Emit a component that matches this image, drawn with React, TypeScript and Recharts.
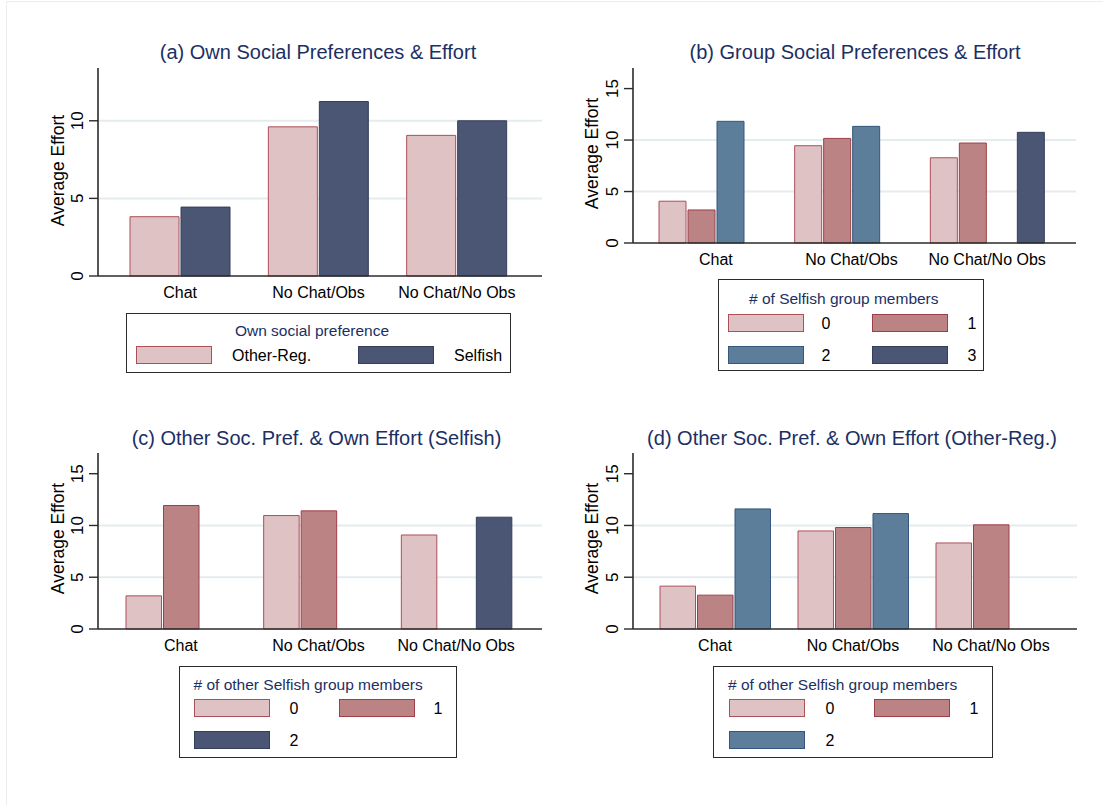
import React from "react";
import { BarChart, Bar, XAxis, YAxis, CartesianGrid } from "recharts";

const FONT = '"Liberation Sans", Arial, Helvetica, sans-serif';
const TITLE_COLOR = "#1c2f63";
const AXIS_COLOR = "#2b2b2b";
const GRID_COLOR = "#e4ecee";

// categories shared by all four panels
const conditions = ["Chat", "No Chat/Obs", "No Chat/No Obs"];

// (a) own social preference
const ownPrefNames = ["Other-Reg.", "Selfish"];
const ownOtherReg = [3.82, 9.61, 9.06];
const ownSelfish = [4.44, 11.24, 10.0];

// (b) # of selfish group members
const groupNames = ["0", "1", "2", "3"];
const group0 = [4.06, 9.45, 8.28];
const group1 = [3.21, 10.16, 9.71];
const group2 = [11.82, 11.33, null];
const group3 = [null, null, 10.75];

// (c) selfish subjects, # of other selfish members
const otherNames = ["0", "1", "2"];
const selfish0 = [3.2, 10.96, 9.08];
const selfish1 = [11.93, 11.41, null];
const selfish2 = [null, null, 10.8];

// (d) other-regarding subjects, # of other selfish members
const otherReg0 = [4.14, 9.47, 8.31];
const otherReg1 = [3.27, 9.8, 10.06];
const otherReg2 = [11.6, 11.15, null];

const ticksA = [0, 5, 10];
const ticksBCD = [0, 5, 10, 15];
const gridValues = [5, 10];

const PINK = { fill: "#dfc2c4", stroke: "#ab4f59" };
const MAUVE = { fill: "#bc8385", stroke: "#9e3e48" };
const STEEL = { fill: "#5c7e9b", stroke: "#34577b" };
const NAVY = { fill: "#4a5673", stroke: "#343f5c" };

type Val = number | null;

function toRows(series: Val[][]) {
  return conditions.map((c, i) => {
    const row: Record<string, any> = { cond: c };
    series.forEach((s, j) => {
      row["s" + j] = s[i];
    });
    return row;
  });
}

const YAXIS_W = 98;
const M_TOP = 12;
const M_RIGHT = 10;
const XAXIS_H = 34;

function YTick(props: any) {
  const { x, y, payload } = props;
  const bx = x - 4;
  return (
    <text
      x={bx}
      y={y}
      transform={`rotate(-90 ${bx} ${y})`}
      textAnchor="middle"
      fontSize={17}
      fill="#000"
      fontFamily={FONT}
    >
      {payload.value}
    </text>
  );
}

function Panel(p: any) {
  const width = YAXIS_W + p.plotW + M_RIGHT;
  const height = M_TOP + p.plotH + XAXIS_H;
  return (
    <div style={{ position: "absolute", left: p.plotLeft - YAXIS_W, top: p.plotTop - M_TOP }}>
      <BarChart
        width={width}
        height={height}
        data={p.rows}
        margin={{ top: M_TOP, right: M_RIGHT, bottom: 0, left: 0 }}
        barSize={p.barSize}
        barGap={p.barGap}
      >
        <CartesianGrid
          vertical={false}
          horizontalValues={gridValues}
          stroke={GRID_COLOR}
          strokeWidth={2}
        />
        <XAxis
          dataKey="cond"
          type="category"
          height={XAXIS_H}
          padding={{ left: p.padL, right: p.padR }}
          tickLine={false}
          tickSize={0}
          tickMargin={11}
          interval={0}
          axisLine={{ stroke: AXIS_COLOR, strokeWidth: 1.6 }}
          tick={{ fontSize: 16, fill: "#000", fontFamily: FONT }}
        />
        <YAxis
          type="number"
          domain={[0, p.yMax]}
          ticks={p.ticks}
          interval={0}
          width={YAXIS_W}
          tickSize={9}
          tickLine={{ stroke: AXIS_COLOR, strokeWidth: 1.4 }}
          axisLine={{ stroke: AXIS_COLOR, strokeWidth: 1.6 }}
          tick={<YTick />}
        />
        {p.colors.map((c: any, j: number) => (
          <Bar
            key={j}
            dataKey={"s" + j}
            fill={c.fill}
            stroke={c.stroke}
            strokeWidth={1}
            isAnimationActive={false}
          />
        ))}
      </BarChart>
    </div>
  );
}

function CenterText({ cx, cy, text, size, color, rotate }: any) {
  const w = 600;
  const h = Math.round(size * 1.4);
  return (
    <div
      style={{
        position: "absolute",
        left: cx - w / 2,
        top: cy - h / 2,
        width: w,
        height: h,
        lineHeight: h + "px",
        textAlign: "center",
        fontSize: size,
        color,
        whiteSpace: "nowrap",
        transform: rotate ? "rotate(-90deg)" : undefined,
      }}
    >
      {text}
    </div>
  );
}

function LegendBox({ box, title, names, colors, items }: any) {
  const lh = 22;
  return (
    <>
      <div
        style={{
          position: "absolute",
          left: box.left,
          top: box.top,
          width: box.w,
          height: box.h,
          border: "1.5px solid #2b2b2b",
          boxSizing: "border-box",
        }}
      />
      {title.center ? (
        <CenterText cx={title.x} cy={title.cy} text={title.text} size={15.5} color={TITLE_COLOR} />
      ) : (
        <div
          style={{
            position: "absolute",
            left: title.x,
            top: title.cy - lh / 2,
            height: lh,
            lineHeight: lh + "px",
            fontSize: 15.5,
            color: TITLE_COLOR,
            whiteSpace: "nowrap",
          }}
        >
          {title.text}
        </div>
      )}
      {items.map((it: any, i: number) => (
        <React.Fragment key={i}>
          <div
            style={{
              position: "absolute",
              left: it.sx,
              top: it.cy - 9,
              width: 76,
              height: 18,
              background: colors[i].fill,
              border: "1.5px solid " + colors[i].stroke,
              boxSizing: "border-box",
            }}
          />
          {it.anchor === "start" ? (
            <div
              style={{
                position: "absolute",
                left: it.lx,
                top: it.cy - lh / 2 + 1,
                height: lh,
                lineHeight: lh + "px",
                fontSize: 16,
                color: "#000",
                whiteSpace: "nowrap",
              }}
            >
              {names[i]}
            </div>
          ) : (
            <CenterText cx={it.lx} cy={it.cy + 1} text={names[i]} size={16} color="#000" />
          )}
        </React.Fragment>
      ))}
    </>
  );
}

export default function App() {
  return (
    <div
      style={{
        position: "absolute",
        left: 0,
        top: 0,
        width: 1103,
        height: 805,
        background: "#fff",
        fontFamily: FONT,
        overflow: "hidden",
      }}
    >
      <div
        style={{
          position: "absolute",
          left: 6,
          top: 1,
          right: 0,
          bottom: 0,
          borderLeft: "1px solid #e8eef1",
          borderTop: "1px solid #e8eef1",
        }}
      />

      {/* titles */}
      <CenterText cx={318} cy={52} text="(a) Own Social Preferences & Effort" size={20} color={TITLE_COLOR} />
      <CenterText cx={855} cy={52} text="(b) Group Social Preferences & Effort" size={20} color={TITLE_COLOR} />
      <CenterText cx={316.5} cy={437.5} text="(c) Other Soc. Pref. & Own Effort (Selfish)" size={20} color={TITLE_COLOR} />
      <CenterText cx={852} cy={437.5} text="(d) Other Soc. Pref. & Own Effort (Other-Reg.)" size={20} color={TITLE_COLOR} />

      {/* y axis titles */}
      <CenterText cx={57.5} cy={170} text="Average Effort" size={17.5} color="#000" rotate />
      <CenterText cx={592} cy={153} text="Average Effort" size={17.5} color="#000" rotate />
      <CenterText cx={57.5} cy={538} text="Average Effort" size={17.5} color="#000" rotate />
      <CenterText cx={592} cy={538} text="Average Effort" size={17.5} color="#000" rotate />

      <Panel
        plotLeft={98}
        plotTop={68}
        plotW={444}
        plotH={208}
        yMax={13.4}
        ticks={ticksA}
        rows={toRows([ownOtherReg, ownSelfish])}
        colors={[PINK, NAVY]}
        barSize={49}
        barGap={2}
        padL={13}
        padR={16}
      />
      <Panel
        plotLeft={633}
        plotTop={68}
        plotW={443}
        plotH={175}
        yMax={17}
        ticks={ticksBCD}
        rows={toRows([group0, group1, group2, group3])}
        colors={[PINK, MAUVE, STEEL, NAVY]}
        barSize={27}
        barGap={2}
        padL={15}
        padR={21}
      />
      <Panel
        plotLeft={98}
        plotTop={453}
        plotW={444}
        plotH={176}
        yMax={17}
        ticks={ticksBCD}
        rows={toRows([selfish0, selfish1, selfish2])}
        colors={[PINK, MAUVE, NAVY]}
        barSize={35.5}
        barGap={2}
        padL={14}
        padR={17}
      />
      <Panel
        plotLeft={633}
        plotTop={453}
        plotW={444}
        plotH={176}
        yMax={17}
        ticks={ticksBCD}
        rows={toRows([otherReg0, otherReg1, otherReg2])}
        colors={[PINK, MAUVE, STEEL]}
        barSize={35.5}
        barGap={2}
        padL={13}
        padR={17}
      />

      <LegendBox
        box={{ left: 126, top: 313, w: 385, h: 60 }}
        title={{ text: "Own social preference", x: 312, cy: 331, center: true }}
        names={ownPrefNames}
        colors={[PINK, NAVY]}
        items={[
          { sx: 136, cy: 355, lx: 232, anchor: "start" },
          { sx: 358, cy: 355, lx: 454, anchor: "start" },
        ]}
      />
      <LegendBox
        box={{ left: 718, top: 279, w: 266, h: 92 }}
        title={{ text: "# of Selfish group members", x: 749, cy: 299 }}
        names={groupNames}
        colors={[PINK, MAUVE, STEEL, NAVY]}
        items={[
          { sx: 728, cy: 323, lx: 826 },
          { sx: 872, cy: 323, lx: 972 },
          { sx: 728, cy: 355, lx: 826 },
          { sx: 872, cy: 355, lx: 972 },
        ]}
      />
      <LegendBox
        box={{ left: 178.5, top: 666, w: 278.5, h: 92 }}
        title={{ text: "# of other Selfish group members", x: 193.5, cy: 685 }}
        names={otherNames}
        colors={[PINK, MAUVE, NAVY]}
        items={[
          { sx: 194, cy: 708, lx: 294 },
          { sx: 339, cy: 708, lx: 438 },
          { sx: 194, cy: 740, lx: 294 },
        ]}
      />
      <LegendBox
        box={{ left: 713, top: 666, w: 280, h: 92 }}
        title={{ text: "# of other Selfish group members", x: 728, cy: 685 }}
        names={otherNames}
        colors={[PINK, MAUVE, STEEL]}
        items={[
          { sx: 729, cy: 708, lx: 830 },
          { sx: 874, cy: 708, lx: 974 },
          { sx: 729, cy: 740, lx: 830 },
        ]}
      />
    </div>
  );
}
